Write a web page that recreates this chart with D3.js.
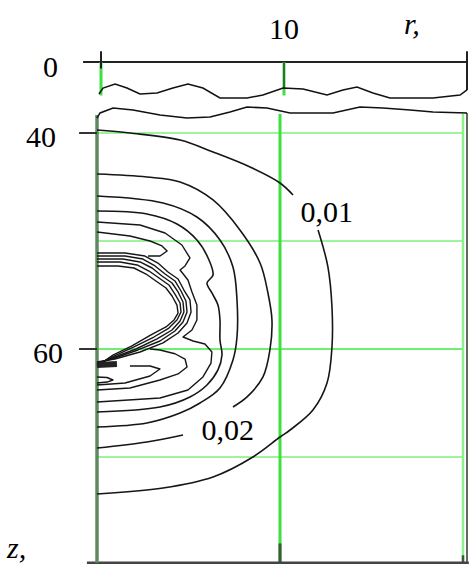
<!DOCTYPE html>
<html>
<head>
<meta charset="utf-8">
<script src="https://cdn.jsdelivr.net/npm/d3@7"></script>
<style>
  body { margin: 0; background: #fff; }
  svg { display: block; }
  text { font-family: "Liberation Serif", serif; }
</style>
</head>
<body>
<svg id="chart" width="472" height="567"></svg>
<script>
// r ticks (top), z ticks (left), grid values
var rTicks = [10];
var zTicksTop = [0];
var zTicksLow = [40, 60];
var rGrid = [10, 20];
var zGrid = [40, 50, 60, 70];

// contour lines, [r, z]
var c1a = [[0,39.72],[1.8,40.0],[4.54,40.65],[6.34,41.76],[8.36,43.15],[10.0,44.63],[10.71,45.74]];
var c1b = [[12.08,48.98],[12.62,52.41],[12.84,56.11],[12.84,59.81],[12.57,63.15],[11.8,65.65],[10.55,67.5],[10.0,68.15],[8.52,70.0],[6.34,71.85],[3.61,72.87],[0,73.43]];
var c2a = [[0,43.8],[2.73,44.07],[4.54,44.54],[6.34,46.2],[7.81,48.98],[8.91,52.04],[9.34,54.81],[9.56,57.31],[9.45,60.09],[9.07,62.59],[8.2,64.44],[7.43,65.37]];
var c2b = [[4.7,67.96],[2.73,68.61],[0,69.17]];
var c3 = [[0,45.83],[3.61,46.48],[5.46,47.78],[6.72,49.91],[7.43,52.41],[7.65,55.46],[7.65,58.89],[7.43,61.02],[6.72,63.61],[5.63,65.0],[4.54,65.93],[2.73,66.85],[0,67.22]];
var c4 = [[0,47.22],[2.73,47.5],[4.37,48.43],[5.46,49.91],[6.07,51.57],[6.34,53.15],[6.01,53.89],[6.28,54.81],[6.61,55.93],[6.72,57.31],[6.72,59.17],[6.83,60.56],[6.61,61.94],[6.01,63.33],[5.08,64.44],[3.44,65.37],[0,65.83]];
var c5 = [[0,48.24],[2.35,48.52],[3.72,49.26],[4.64,50.37],[5.08,51.57],[4.81,52.31],[4.54,52.69],[4.97,53.61],[5.19,54.72],[5.46,55.93],[5.46,57.31],[5.19,58.24],[4.7,58.89],[5.25,59.26],[5.9,59.54],[6.28,60.28],[6.23,61.3],[5.79,62.59],[4.97,63.8],[3.44,64.54],[0,64.91]];
var c6a = [[0,49.17],[1.8,49.54],[2.9,50.0],[3.55,50.46],[3.83,50.93],[3.44,51.39],[2.79,51.39]];
var c6b = [[0,63.8],[1.8,63.61],[3.44,62.87],[4.43,62.31],[4.92,61.67],[4.81,60.93],[4.26,60.44],[3.44,60.09],[2.9,60.0]];
var c7 = [[0,63.33],[1.53,63.15],[2.9,62.5],[3.44,61.85],[2.9,61.57],[1.8,61.57]];
var loop1 = [[0,62.59],[0.55,62.64],[0.87,62.87],[0.55,63.06],[0,63.15]];
var band = [[0,61.48],[1.09,61.39]];

// crescent bundle
var k0 = [[0,51.11],[1.53,51.11],[2.62,51.39],[3.33,52.04],[3.88,52.87],[4.43,53.52],[4.75,54.54],[5.08,55.46],[5.14,56.57],[4.92,57.59],[4.43,58.52],[3.61,59.44],[2.35,60.28],[0.98,60.93],[0,61.2]];
var k1 = [[0,51.39],[1.53,51.39],[2.51,51.67],[3.17,52.31],[3.72,53.06],[4.26,53.7],[4.59,54.63],[4.86,55.56],[4.92,56.57],[4.7,57.5],[4.26,58.33],[3.44,59.26],[2.24,60.09],[0.98,60.83],[0,61.3]];
var k2 = [[0,51.67],[1.42,51.67],[2.35,51.94],[3.01,52.5],[3.55,53.24],[4.1,53.89],[4.43,54.72],[4.7,55.65],[4.75,56.57],[4.54,57.41],[4.1,58.24],[3.28,59.07],[2.13,60.0],[0.98,60.74],[0,61.39]];
var k3 = [[0,51.94],[1.26,51.94],[2.19,52.22],[2.84,52.78],[3.39,53.43],[3.93,54.07],[4.26,54.91],[4.54,55.74],[4.59,56.57],[4.37,57.31],[3.93,58.06],[3.11,58.89],[2.02,59.81],[0.93,60.65],[0,61.48]];
var k4 = [[0,52.31],[1.15,52.31],[2.02,52.5],[2.68,53.06],[3.22,53.7],[3.77,54.35],[4.1,55.09],[4.37,55.93],[4.43,56.67],[4.21,57.31],[3.77,57.96],[2.95,58.7],[1.91,59.72],[0.87,60.56],[0,61.57]];

// axis break waves, [r, z] in the top strip
var waveTop = [[-0.11,2.96],[0.11,2.41],[0.77,2.04],[1.42,2.41],[2.13,2.96],[3.06,2.87],[3.93,2.41],[4.75,2.04],[5.57,2.41],[6.5,3.33],[7.98,3.33],[8.85,3.06],[9.95,2.41],[11.04,2.5],[12.35,3.06],[13.22,2.59],[13.99,2.31],[14.86,2.87],[15.79,3.33],[18.14,3.33],[19.62,3.06],[20.0,2.59]];
var waveLow = [[-0.22,5.19],[-0.05,4.72],[0.66,4.26],[1.75,4.44],[3.22,4.91],[4.7,5.19],[5.96,5.09],[7.05,4.63],[7.98,4.17],[9.07,4.26],[10.33,4.72],[12.68,4.72],[14.15,4.17],[15.41,4.26],[16.89,4.44],[18.14,4.63],[20.0,4.72]];

var labels = [
  { text: "0,01", r: 12.55, z: 48.2 },
  { text: "0,02", r: 7.15, z: 68.4 }
];

var svg = d3.select("#chart");

// scales
var x = d3.scaleLinear().domain([0, 20]).range([97, 463]);
var y = d3.scaleLinear().domain([40, 80]).range([133, 565]);
var xTop = d3.scaleLinear().domain([0, 20]).range([101, 467]);
var yTop = d3.scaleLinear().domain([0, 5]).range([62, 116]);

var zBottom = 79.8;
var zBoxTop = 38.25;

// green grid, lower part
svg.selectAll(".hgrid").data(zGrid).enter().append("line")
    .attr("x1", x(0)).attr("x2", x(20))
    .attr("y1", function (d) { return y(d); }).attr("y2", function (d) { return y(d); })
    .style("stroke", function (d) { return d == 60 ? "#3fe83f" : "#7cf07c"; })
    .style("stroke-width", 1.6);

svg.selectAll(".vgrid").data(rGrid).enter().append("line")
    .attr("x1", function (d) { return x(d); }).attr("x2", function (d) { return x(d); })
    .attr("y1", y(zBoxTop)).attr("y2", y(zBottom))
    .style("stroke", function (d) { return d == 10 ? "#3ee03e" : "#8cf08c"; })
    .style("stroke-width", function (d) { return d == 10 ? 3 : 2.5; });

// dark bits of the vertical lines at the bottom
svg.append("line").attr("x1", x(10)).attr("x2", x(10)).attr("y1", y(78)).attr("y2", y(zBottom))
    .style("stroke", "#3a5a3a").style("stroke-width", 3);
svg.append("line").attr("x1", x(20)).attr("x2", x(20)).attr("y1", y(79.1)).attr("y2", y(zBottom))
    .style("stroke", "#3a5a3a").style("stroke-width", 2.5);

// right border
svg.append("line").attr("x1", xTop(20)).attr("x2", xTop(20)).attr("y1", yTop(4.72)).attr("y2", y(zBottom))
    .style("stroke", "#333").style("stroke-width", 1.5);

// bottom axis
svg.append("line").attr("x1", x(-0.55)).attr("x2", xTop(20.1)).attr("y1", y(zBottom)).attr("y2", y(zBottom))
    .style("stroke", "#444").style("stroke-width", 2.5);

// left axis
svg.append("line").attr("x1", x(0)).attr("x2", x(0)).attr("y1", yTop(4.9)).attr("y2", y(zBottom))
    .style("stroke", "#5f8a5f").style("stroke-width", 3.5);

// left ticks
svg.selectAll(".ztick").data(zTicksLow).enter().append("line")
    .attr("x1", x(-0.98)).attr("x2", x(0))
    .attr("y1", function (d) { return y(d); }).attr("y2", function (d) { return y(d); })
    .style("stroke", "#333").style("stroke-width", 2);

// top strip
svg.append("line").attr("x1", xTop(-0.98)).attr("x2", xTop(20)).attr("y1", yTop(0)).attr("y2", yTop(0))
    .style("stroke", "#222").style("stroke-width", 2);
svg.selectAll(".tgrid").data([0, 10]).enter().append("line")
    .attr("x1", function (d) { return xTop(d); }).attr("x2", function (d) { return xTop(d); })
    .attr("y1", yTop(0)).attr("y2", yTop(3.1))
    .style("stroke", "#3ee03e").style("stroke-width", 3);
svg.selectAll(".ttick").data([0, 20]).enter().append("line")
    .attr("x1", function (d) { return xTop(d); }).attr("x2", function (d) { return xTop(d); })
    .attr("y1", yTop(-1)).attr("y2", function (d) { return d == 0 ? yTop(0.6) : yTop(2.6); })
    .style("stroke", "#222").style("stroke-width", 2);
svg.append("line").attr("x1", xTop(10)).attr("x2", xTop(10)).attr("y1", yTop(0)).attr("y2", yTop(2.4))
    .style("stroke", "#3a6a3a").style("stroke-width", 2);

var waveLine = d3.line()
    .x(function (d) { return xTop(d[0]); })
    .y(function (d) { return yTop(d[1]); });
[waveTop, waveLow].forEach(function (w) {
    svg.append("path").attr("d", waveLine(w))
        .style("fill", "none").style("stroke", "#111").style("stroke-width", 1.5);
});

// contours
var smooth = d3.line().curve(d3.curveCatmullRom)
    .x(function (d) { return x(d[0]); })
    .y(function (d) { return y(d[1]); });
var rough = d3.line()
    .x(function (d) { return x(d[0]); })
    .y(function (d) { return y(d[1]); });

[c1a, c1b, c2a, c2b, c3, c4].forEach(function (c) {
    svg.append("path").attr("d", smooth(c))
        .style("fill", "none").style("stroke", "#161616").style("stroke-width", 1.6);
});
[c5, c6a, c6b, c7, loop1, k0, k1, k2, k3, k4].forEach(function (c) {
    svg.append("path").attr("d", rough(c))
        .style("fill", "none").style("stroke", "#161616").style("stroke-width", 1.4)
        .style("stroke-linejoin", "round");
});
svg.append("path").attr("d", rough(band))
    .style("fill", "none").style("stroke", "#222").style("stroke-width", 6);

function lbl(sel) {
    return sel.attr("font-size", 30).attr("fill", "#000");
}

// contour labels
lbl(svg.selectAll(".clbl").data(labels).enter().append("text")
    .attr("x", function (d) { return x(d.r); })
    .attr("y", function (d) { return y(d.z); })
    .attr("text-anchor", "middle")
    .text(function (d) { return d.text; }));

// axis labels
lbl(svg.selectAll(".rl").data(rTicks).enter().append("text")
    .attr("x", function (d) { return xTop(d); })
    .attr("y", 39)
    .attr("text-anchor", "middle")
    .text(function (d) { return d; }));
lbl(svg.selectAll(".zl0").data(zTicksTop).enter().append("text")
    .attr("x", 58)
    .attr("y", function (d) { return yTop(d) + 15; })
    .attr("text-anchor", "end")
    .text(function (d) { return d; }));
lbl(svg.selectAll(".zl").data(zTicksLow).enter().append("text")
    .attr("x", function (d) { return d == 60 ? 63 : 56; })
    .attr("y", function (d) { return y(d) + 14; })
    .attr("text-anchor", "end")
    .text(function (d) { return d; }));

lbl(svg.append("text").attr("x", 404).attr("y", 34)
    .attr("font-style", "italic").text("r,"));
lbl(svg.append("text").attr("x", 7).attr("y", 558)
    .attr("font-style", "italic").text("z,"));
</script>
</body>
</html>
